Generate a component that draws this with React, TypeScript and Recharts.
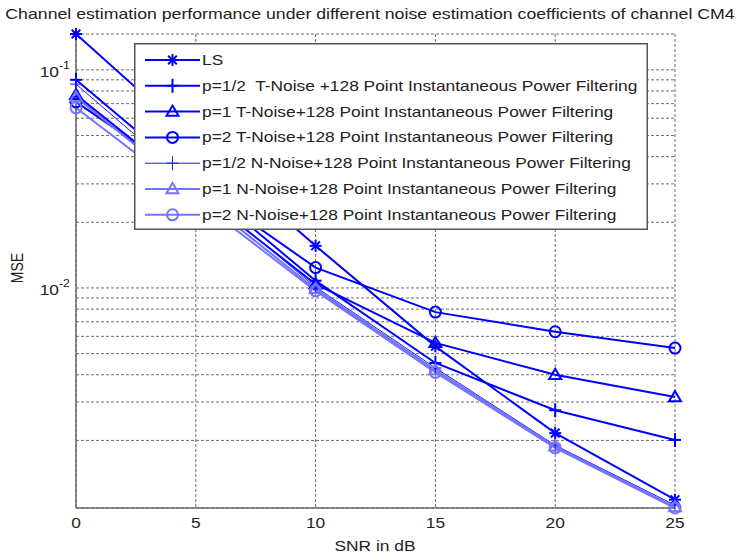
import React from "react"
import { LineChart, Line, XAxis, YAxis, CartesianGrid, Legend } from "recharts"

// SNR points (dB)
const snr = [0, 5, 10, 15, 20, 25]

// MSE per curve
const mseLS = [0.146, 0.047, 0.0156, 0.0054, 0.00216, 0.00107]
const mseT05 = [0.09, 0.031, 0.0108, 0.00453, 0.00275, 0.00201]
const mseT1 = [0.0768, 0.028, 0.0104, 0.0056, 0.004, 0.00316]
const mseT2 = [0.0713, 0.03, 0.0124, 0.00775, 0.0063, 0.0053]
const mseN05 = [0.086, 0.029, 0.0101, 0.0043, 0.0019, 0.00101]
const mseN1 = [0.075, 0.027, 0.0099, 0.0042, 0.00188, 0.00099]
const mseN2 = [0.067, 0.0255, 0.0097, 0.0041, 0.00185, 0.00098]

const seriesNames = [
    "LS",
    "p=1/2  T-Noise +128 Point Instantaneous Power Filtering",
    "p=1 T-Noise+128 Point Instantaneous Power Filtering",
    "p=2 T-Noise+128 Point Instantaneous Power Filtering",
    "p=1/2 N-Noise+128 Point Instantaneous Power Filtering",
    "p=1 N-Noise+128 Point Instantaneous Power Filtering",
    "p=2 N-Noise+128 Point Instantaneous Power Filtering"
]

const xTicks = [0, 5, 10, 15, 20, 25]
const yTicks = [
    0.002, 0.003, 0.004, 0.005, 0.006, 0.007, 0.008, 0.009,
    0.01, 0.02, 0.03, 0.04, 0.05, 0.06, 0.07, 0.08, 0.09, 0.1
]
const yDomain = [0.00098, 0.146]

const titleText =
    "Channel estimation performance under different noise estimation coefficients of channel CM4"

const data = snr.map((s, i) => ({
    snr: s,
    ls: mseLS[i],
    t05: mseT05[i],
    t1: mseT1[i],
    t2: mseT2[i],
    n05: mseN05[i],
    n1: mseN1[i],
    n2: mseN2[i]
}))

// the figure is stretched sideways, so text is too
const STRETCH = 1.24
const FONT = "'Liberation Sans', Arial, Helvetica, sans-serif"
const TEXT = "#222"
const FRAME = "#6a6a6a"

const series = [
    { key: "ls", color: "#0000ff", width: 2, marker: "star" },
    { key: "t05", color: "#0000ff", width: 2, marker: "plus" },
    { key: "t1", color: "#0000ff", width: 2, marker: "triangle" },
    { key: "t2", color: "#0000ff", width: 2, marker: "circle" },
    { key: "n05", color: "#1a1aff", width: 1, marker: "plus" },
    { key: "n1", color: "#7373ff", width: 2, marker: "triangle" },
    { key: "n2", color: "#7373ff", width: 2, marker: "circle" }
].map((s, i) => ({ ...s, name: seriesNames[i] }))

function Marker({ shape, cx, cy, color, width }) {
    const r = 6
    const sw = width
    if (shape === "star") {
        const d = r * 0.72
        return (
            <g stroke={color} strokeWidth={sw}>
                <line x1={cx - r} y1={cy} x2={cx + r} y2={cy} />
                <line x1={cx} y1={cy - r} x2={cx} y2={cy + r} />
                <line x1={cx - d} y1={cy - d} x2={cx + d} y2={cy + d} />
                <line x1={cx - d} y1={cy + d} x2={cx + d} y2={cy - d} />
            </g>
        )
    }
    if (shape === "plus") {
        return (
            <g stroke={color} strokeWidth={sw}>
                <line x1={cx - r} y1={cy} x2={cx + r} y2={cy} />
                <line x1={cx} y1={cy - r - 1} x2={cx} y2={cy + r + 1} />
            </g>
        )
    }
    if (shape === "triangle") {
        return (
            <polygon
                points={`${cx},${cy - r} ${cx + r},${cy + r * 0.7} ${cx - r},${cy + r * 0.7}`}
                fill="none"
                stroke={color}
                strokeWidth={sw}
            />
        )
    }
    return <circle cx={cx} cy={cy} r={r - 0.5} fill="none" stroke={color} strokeWidth={sw} />
}

const renderXTick = ({ x, y, payload }) => (
    <g transform={`translate(${x},${y + 12}) scale(${STRETCH},1)`}>
        <text textAnchor="middle" fontSize={14} fontFamily={FONT} fill={TEXT}>
            {payload.value}
        </text>
    </g>
)

const renderYTick = ({ x, y, payload }) => {
    const v = payload.value
    let exp = null
    if (Math.abs(v - 0.1) < 1e-9) exp = "-1"
    if (Math.abs(v - 0.01) < 1e-9) exp = "-2"
    if (!exp) return <g />
    return (
        <g transform={`translate(${x + 2},${y + 7}) scale(${STRETCH},1)`}>
            <text textAnchor="end" fontFamily={FONT} fill={TEXT}>
                <tspan fontSize={14}>10</tspan>
                <tspan fontSize={10} dy={-8}>{exp}</tspan>
            </text>
        </g>
    )
}

const renderLegend = () => (
    <svg width={514} height={187} style={{ display: "block" }}>
        <rect x={0.75} y={0.75} width={512.5} height={185.5} fill="#fff" stroke="#555" strokeWidth={1.5} />
        {series.map((s, i) => {
            const cy = 17 + i * 25.8
            return (
                <g key={s.key}>
                    <line x1={11} x2={66} y1={cy} y2={cy} stroke={s.color} strokeWidth={s.width} />
                    <Marker shape={s.marker} cx={38.5} cy={cy} color={s.color} width={s.width} />
                    <g transform={`translate(68,${cy + 5}) scale(${STRETCH},1)`}>
                        <text fontSize={14} fontFamily={FONT} fill={TEXT} style={{ whiteSpace: "pre" }}>
                            {s.name}
                        </text>
                    </g>
                </g>
            )
        })}
    </svg>
)

export default function App() {
    return (
        <div style={{ position: "absolute", left: 0, top: 0, background: "#fff" }}>
            <LineChart
                width={740}
                height={558}
                data={data}
                margin={{ top: 34, right: 65, bottom: 0, left: 0 }}
            >
                <CartesianGrid strokeDasharray="3 2" stroke="#6e6e6e" />
                <XAxis
                    dataKey="snr"
                    type="number"
                    domain={[0, 25]}
                    ticks={xTicks}
                    interval={0}
                    height={50}
                    axisLine={{ stroke: FRAME, strokeWidth: 1.5 }}
                    tickLine={false}
                    tick={renderXTick}
                />
                <XAxis
                    xAxisId="top"
                    orientation="top"
                    type="number"
                    domain={[0, 25]}
                    ticks={[5, 10, 15, 20]}
                    interval={0}
                    height={0}
                    mirror
                    tickSize={6}
                    tick={false}
                    axisLine={{ stroke: FRAME, strokeWidth: 1.5 }}
                    tickLine={{ stroke: FRAME }}
                />
                <YAxis
                    type="number"
                    scale="log"
                    domain={yDomain}
                    ticks={yTicks}
                    interval={0}
                    width={76}
                    axisLine={{ stroke: FRAME, strokeWidth: 1.5 }}
                    tickLine={false}
                    tick={renderYTick}
                />
                <YAxis
                    yAxisId="right"
                    orientation="right"
                    type="number"
                    scale="log"
                    domain={yDomain}
                    ticks={yTicks}
                    interval={0}
                    width={0}
                    mirror
                    tickSize={6}
                    tick={false}
                    axisLine={{ stroke: FRAME, strokeWidth: 1.5 }}
                    tickLine={{ stroke: FRAME }}
                />
                {series.map(s => (
                    <Line
                        key={s.key}
                        type="linear"
                        dataKey={s.key}
                        name={s.name}
                        stroke={s.color}
                        strokeWidth={s.width}
                        isAnimationActive={false}
                        dot={p => (
                            <Marker
                                key={`${s.key}-${p.index}`}
                                shape={s.marker}
                                cx={p.cx}
                                cy={p.cy}
                                color={s.color}
                                width={s.width}
                            />
                        )}
                        activeDot={false}
                    />
                ))}
                <Legend
                    layout="horizontal"
                    verticalAlign="middle"
                    align="center"
                    content={renderLegend}
                    wrapperStyle={{ position: "absolute", left: 134, top: 43, width: 514, height: 187 }}
                />
                <g transform={`translate(370,19) scale(1.265,1)`}>
                    <text textAnchor="middle" fontSize={14} fontFamily={FONT} fill={TEXT}>
                        {titleText}
                    </text>
                </g>
                <g transform={`translate(375,551) scale(${STRETCH},1)`}>
                    <text textAnchor="middle" fontSize={14} fontFamily={FONT} fill={TEXT}>
                        SNR in dB
                    </text>
                </g>
                <g transform={`translate(23,268) scale(${STRETCH},1) rotate(-90)`}>
                    <text textAnchor="middle" fontSize={14} fontFamily={FONT} fill={TEXT}>
                        MSE
                    </text>
                </g>
            </LineChart>
        </div>
    )
}
